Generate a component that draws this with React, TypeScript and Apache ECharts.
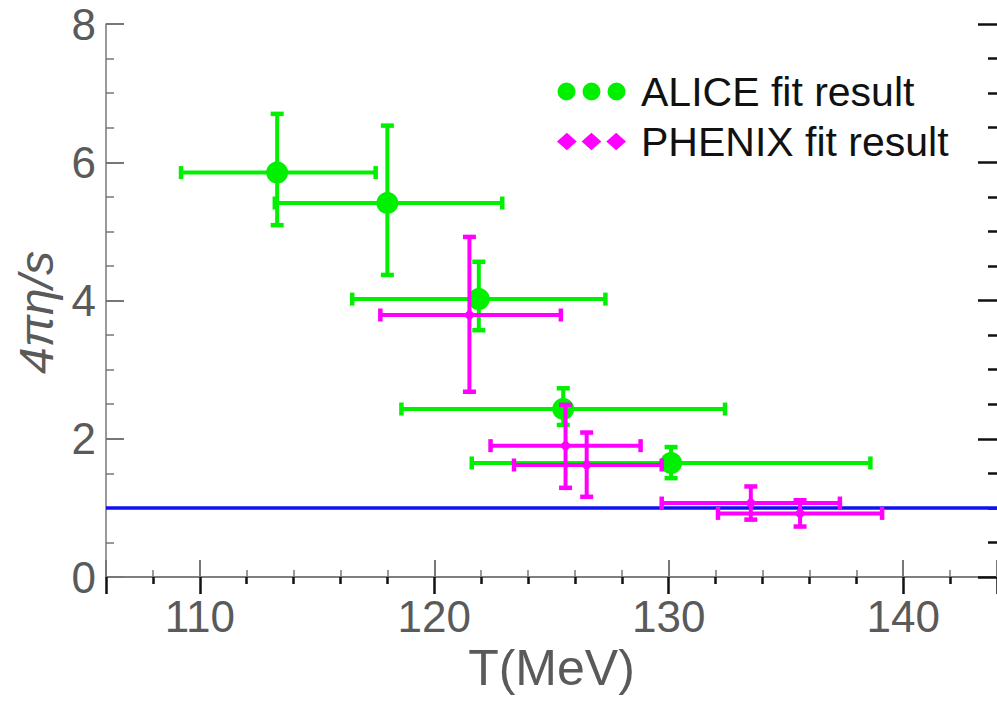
import React, { useEffect, useRef } from "react";
import * as echarts from "echarts";

// ALICE fit result: temperature (MeV) with horizontal error range, 4πη/s with vertical error range
const aliceT = [113.3, 118.0, 121.9, 125.5, 130.1];
const aliceTLow = [109.2, 113.2, 116.5, 118.6, 121.6];
const aliceTHigh = [117.5, 122.9, 127.3, 132.4, 138.6];
const aliceEta = [5.85, 5.41, 4.02, 2.43, 1.65];
const aliceEtaLow = [5.09, 4.37, 3.57, 2.2, 1.43];
const aliceEtaHigh = [6.7, 6.53, 4.56, 2.73, 1.88];

// PHENIX fit result
const phenixT = [121.5, 125.6, 126.5, 133.5, 135.6];
const phenixTLow = [117.7, 122.4, 123.4, 129.7, 132.1];
const phenixTHigh = [125.4, 128.8, 129.7, 137.3, 139.1];
const phenixEta = [3.79, 1.9, 1.62, 1.07, 0.92];
const phenixEtaLow = [2.68, 1.29, 1.16, 0.83, 0.73];
const phenixEtaHigh = [4.92, 2.49, 2.09, 1.31, 1.11];

// KSS bound line 4πη/s = 1
const kssT = [106, 144];
const kssValue = [1, 1];

const xRange = [106, 144];
const yRange = [0, 8];

const GREEN = "#00f000";
const MAGENTA = "#ff00ff";
const FONT = "'Liberation Sans', Arial, sans-serif";
const AXIS_GRAY = "#777777";
const LABEL_GRAY = "#5a5a5a";

function rows(t: number[], tl: number[], th: number[], e: number[], el: number[], eh: number[]) {
  return t.map((v, i) => [v, e[i], tl[i], th[i], el[i], eh[i]]);
}

function errorBars(color: string) {
  return (params: any, api: any) => {
    const x = api.value(0);
    const y = api.value(1);
    const pl = api.coord([api.value(2), y]);
    const ph = api.coord([api.value(3), y]);
    const pb = api.coord([x, api.value(4)]);
    const pt = api.coord([x, api.value(5)]);
    const cap = 6.5;
    const s = { stroke: color, lineWidth: 4 };
    const c = { stroke: color, lineWidth: 4.5 };
    return {
      type: "group",
      children: [
        { type: "line", shape: { x1: pl[0], y1: pl[1], x2: ph[0], y2: ph[1] }, style: s },
        { type: "line", shape: { x1: pl[0], y1: pl[1] - cap, x2: pl[0], y2: pl[1] + cap }, style: c },
        { type: "line", shape: { x1: ph[0], y1: ph[1] - cap, x2: ph[0], y2: ph[1] + cap }, style: c },
        { type: "line", shape: { x1: pb[0], y1: pb[1], x2: pt[0], y2: pt[1] }, style: s },
        { type: "line", shape: { x1: pb[0] - cap, y1: pb[1], x2: pb[0] + cap, y2: pb[1] }, style: c },
        { type: "line", shape: { x1: pt[0] - cap, y1: pt[1], x2: pt[0] + cap, y2: pt[1] }, style: c },
      ],
    };
  };
}

const circlesIcon =
  "path://M0,9A9,9,0,1,1,18,9A9,9,0,1,1,0,9Z M25,9A9,9,0,1,1,43,9A9,9,0,1,1,25,9Z M50,9A9,9,0,1,1,68,9A9,9,0,1,1,50,9Z";
const diamondsIcon =
  "path://M0,9L10,0L20,9L10,18Z M25,9L35,0L45,9L35,18Z M50,9L60,0L70,9L60,18Z";

export default function App() {
  const ref = useRef<HTMLDivElement>(null);
  useEffect(() => {
    if (!ref.current) return;
    const chart = echarts.init(ref.current, undefined, { renderer: "svg" });
    const aliceRows = rows(aliceT, aliceTLow, aliceTHigh, aliceEta, aliceEtaLow, aliceEtaHigh);
    const phenixRows = rows(phenixT, phenixTLow, phenixTHigh, phenixEta, phenixEtaLow, phenixEtaHigh);
    const tickCommon = { inside: true, length: 17 };
    chart.setOption({
      animation: false,
      backgroundColor: "#ffffff",
      textStyle: { fontFamily: FONT },
      grid: { left: 106, right: -5, top: 24, bottom: 134 },
      legend: {
        orient: "vertical",
        left: 552,
        top: 66,
        itemWidth: 69,
        itemHeight: 18,
        itemGap: 9,
        textStyle: { fontSize: 41, color: "#111", fontFamily: FONT, lineHeight: 41, padding: [0, 0, 0, 10] },
        data: [
          { name: "ALICE fit result", icon: circlesIcon, itemStyle: { opacity: 1 } },
          { name: "PHENIX fit result", icon: diamondsIcon, itemStyle: { opacity: 1 } },
        ],
      },
      xAxis: [
        {
          type: "value",
          min: xRange[0],
          max: xRange[1],
          splitNumber: 4,
          name: "T(MeV)",
          nameLocation: "middle",
          nameGap: 62,
          nameTextStyle: { fontSize: 50, color: LABEL_GRAY, fontFamily: FONT },
          axisLine: { show: true, lineStyle: { color: AXIS_GRAY, width: 1.5 } },
          axisTick: { ...tickCommon, lineStyle: { color: AXIS_GRAY, width: 2 } },
          minorTick: { show: true, splitNumber: 5, length: 7, lineStyle: { color: AXIS_GRAY, width: 1.5 } },
          axisLabel: {
            fontSize: 44,
            color: LABEL_GRAY,
            margin: 17,
            showMinLabel: false,
            showMaxLabel: false,
            fontFamily: FONT,
          },
          splitLine: { show: false },
        },
        {
          type: "value",
          position: "top",
          min: xRange[0],
          max: xRange[1],
          splitNumber: 4,
          axisLine: { show: true, lineStyle: { color: AXIS_GRAY, width: 1.5 } },
          axisTick: { ...tickCommon, lineStyle: { color: "#111", width: 2.5 } },
          minorTick: { show: true, splitNumber: 5, length: 7, lineStyle: { color: "#111", width: 2.5 } },
          axisLabel: { show: false },
          splitLine: { show: false },
        },
      ],
      yAxis: [
        {
          type: "value",
          min: yRange[0],
          max: yRange[1],
          interval: 2,
          name: "4πη/s",
          nameLocation: "middle",
          nameGap: 34,
          nameTextStyle: { fontSize: 48, color: LABEL_GRAY, fontStyle: "italic", fontFamily: FONT, padding: [0, 24, 0, 0] },
          axisLine: { show: true, lineStyle: { color: AXIS_GRAY, width: 1.5 } },
          axisTick: { ...tickCommon, length: 18, lineStyle: { color: AXIS_GRAY, width: 2 } },
          minorTick: { show: true, splitNumber: 4, length: 8, lineStyle: { color: AXIS_GRAY, width: 1.5 } },
          axisLabel: { fontSize: 44, color: LABEL_GRAY, margin: 10, fontFamily: FONT },
          splitLine: { show: false },
        },
        {
          type: "value",
          position: "right",
          min: yRange[0],
          max: yRange[1],
          interval: 2,
          axisLine: { show: false },
          axisTick: { show: true, inside: true, length: 19, lineStyle: { color: "#111", width: 2.5 } },
          minorTick: { show: true, splitNumber: 4, length: 9, lineStyle: { color: "#111", width: 2.5 } },
          axisLabel: { show: false },
          splitLine: { show: false },
        },
      ],
      series: [
        {
          name: "KSS bound",
          type: "line",
          data: kssT.map((t, i) => [t, kssValue[i]]),
          showSymbol: false,
          symbol: "none",
          lineStyle: { color: "#1010f0", width: 3.5 },
          z: 1,
          silent: true,
        },
        {
          name: "ALICE error",
          type: "custom",
          renderItem: errorBars(GREEN),
          data: aliceRows,
          encode: { x: 0, y: 1 },
          z: 2,
        },
        {
          name: "ALICE fit result",
          type: "scatter",
          data: aliceRows.map((r) => [r[0], r[1]]),
          symbol: "circle",
          symbolSize: 22,
          itemStyle: { color: GREEN, opacity: 1 },
          z: 3,
        },
        {
          name: "PHENIX error",
          type: "custom",
          renderItem: errorBars(MAGENTA),
          data: phenixRows,
          encode: { x: 0, y: 1 },
          z: 4,
        },
        {
          name: "PHENIX fit result",
          type: "scatter",
          data: phenixRows.map((r) => [r[0], r[1]]),
          symbol: "diamond",
          symbolSize: 12,
          itemStyle: { color: MAGENTA, opacity: 1 },
          z: 5,
        },
      ],
    });
    return () => chart.dispose();
  }, []);
  return (
    <div
      ref={ref}
      style={{ position: "fixed", left: 0, top: 0, width: 997, height: 711, background: "#fff" }}
    />
  );
}
